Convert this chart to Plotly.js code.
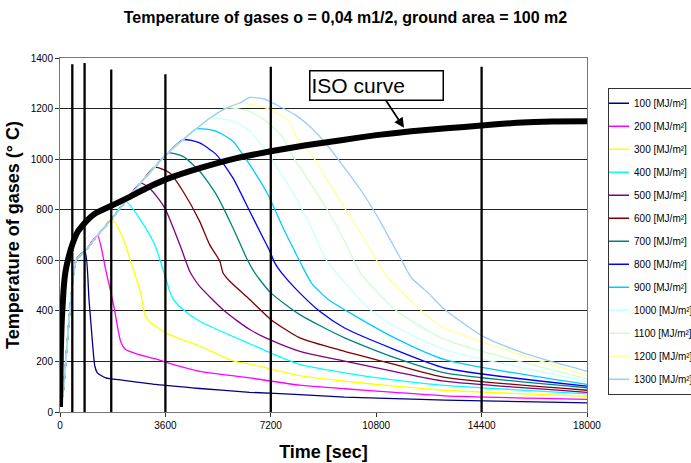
<!DOCTYPE html>
<html>
<head>
<meta charset="utf-8">
<script src="https://cdn.plot.ly/plotly-3.0.1.min.js"></script>
<style>html,body{margin:0;padding:0;background:#fff;}#chart{width:691px;height:463px;}</style>
</head>
<body>
<div id="chart"></div>
<script>
// ---------- DATA ----------
const seriesNames = ['100 [MJ/m²]','200 [MJ/m²]','300 [MJ/m²]','400 [MJ/m²]','500 [MJ/m²]','600 [MJ/m²]','700 [MJ/m²]','800 [MJ/m²]','900 [MJ/m²]','1000 [MJ/m²]','1100 [MJ/m²]','1200 [MJ/m²]','1300 [MJ/m²]'];
const seriesColors = ['#000080','#ff00ff','#ffff00','#00ffff','#800080','#800000','#008080','#0000ff','#00ccff','#ccffff','#ccffcc','#ffff99','#99ccff'];

// common growth phase (shared by all fire loads)
const growthTime = [0, 100, 557, 850, 1275, 1764, 2242, 2750, 3233, 3688, 4201, 4657, 5113, 5684, 6138, 6480];
const growthTemp = [20, 70, 603, 635, 698, 763, 833, 905, 968, 1024, 1077, 1120, 1162, 1202, 1222, 1244];

// decay phase of each fire load (first point = peak)
const decay100Time = [850, 990, 1100, 1190, 1275, 1560, 2130, 3270, 4770, 6480, 8190, 9720, 11430, 13140, 18000];
const decay100Temp = [635, 445, 287, 181, 155, 135, 126, 109, 93, 78, 69, 59, 53, 47, 36];
const decay200Time = [1275, 1560, 1840, 2070, 2240, 2700, 3270, 3600, 4770, 6480, 8190, 9720, 11430, 13140, 18000];
const decay200Temp = [698, 563, 418, 280, 247, 227, 210, 197, 161, 135, 106, 92, 78, 64, 50];
const decay300Time = [1764, 2130, 2470, 2755, 2900, 3100, 3270, 3600, 4770, 5970, 6480, 8190, 9720, 11430, 13140, 18000];
const decay300Temp = [763, 695, 576, 471, 385, 352, 339, 313, 260, 200, 190, 144, 122, 102, 86, 62];
const decay400Time = [2242, 2780, 3233, 3575, 3750, 3920, 4200, 4770, 6480, 8190, 9720, 11430, 13140, 18000];
const decay400Temp = [833, 754, 662, 543, 477, 438, 405, 359, 270, 188, 155, 126, 105, 72];
const decay500Time = [2750, 3100, 3575, 4090, 4430, 4600, 4770, 5630, 6480, 7200, 8190, 9720, 11430, 13140, 18000];
const decay500Temp = [905, 880, 807, 662, 557, 524, 497, 398, 326, 284, 240, 201, 160, 122, 78];
const decay600Time = [3233, 3750, 4200, 4770, 5110, 5460, 5570, 5800, 6480, 7200, 8190, 9720, 11430, 13140, 18000];
const decay600Temp = [968, 945, 873, 754, 662, 596, 550, 517, 445, 366, 293, 240, 188, 137, 86];
const decay700Time = [3688, 4200, 4770, 5340, 5910, 6370, 6600, 6820, 7200, 8190, 9720, 11430, 13140, 18000];
const decay700Temp = [1024, 1011, 952, 860, 728, 609, 560, 524, 471, 385, 293, 215, 155, 96];
const decay800Time = [4201, 4770, 5340, 5910, 6480, 6935, 7165, 7335, 7620, 8020, 8870, 9720, 11430, 13140, 18000];
const decay800Temp = [1077, 1064, 1018, 925, 794, 689, 636, 590, 543, 491, 398, 332, 247, 174, 102];
const decay900Time = [4657, 5340, 5910, 6480, 7100, 7620, 7960, 8190, 8590, 9160, 9786, 11430, 13140, 18000];
const decay900Temp = [1120, 1110, 1070, 978, 860, 728, 649, 596, 510, 445, 400, 293, 207, 109];
const decay1000Time = [5113, 5910, 6480, 7050, 7620, 8020, 8590, 9102, 9720, 10640, 11430, 13140, 18000];
const decay1000Temp = [1162, 1149, 1110, 1031, 930, 855, 728, 600, 513, 400, 339, 247, 122];
const decay1100Time = [5684, 6480, 7050, 7620, 8020, 8590, 9160, 9720, 10010, 10300, 11495, 13140, 18000];
const decay1100Temp = [1202, 1189, 1149, 1084, 998, 899, 794, 675, 605, 543, 400, 287, 131];
const decay1200Time = [6138, 7050, 7850, 8020, 8590, 9160, 9720, 10300, 10811, 11208, 12350, 13000, 18000];
const decay1200Temp = [1222, 1202, 1149, 1097, 1018, 912, 807, 702, 600, 530, 400, 339, 144];
const decay1300Time = [6480, 6925, 8020, 8590, 9160, 9720, 10300, 10866, 11432, 11666, 12008, 12575, 13141, 14434, 15822, 16963, 18000];
const decay1300Temp = [1244, 1239, 1176, 1123, 1051, 965, 873, 768, 649, 600, 530, 471, 405, 300, 234, 194, 161];

// ISO standard fire curve
const isoTime = [0, 30, 60, 120, 180, 300, 450, 600, 900, 1200, 1800, 2400, 3000, 3600, 4800, 6000, 7200, 8400, 9600, 10800, 12000, 13200, 14400, 15600, 16800, 18000];
const isoTemp = [20, 250, 360, 480, 550, 615, 672, 712, 755, 785, 818, 852, 888, 919, 965, 1003, 1031, 1055, 1075, 1095, 1110, 1122, 1133, 1144, 1149, 1150];

// hand-drawn vertical marker lines
const markerTimes = [420, 840, 1750, 3600, 7200, 14400];
const markerTops = [1375, 1380, 1355, 1336, 1365, 1365];

const xTickVals = [0, 3600, 7200, 10800, 14400, 18000];

const decayTimes = [decay100Time, decay200Time, decay300Time, decay400Time, decay500Time, decay600Time, decay700Time, decay800Time, decay900Time, decay1000Time, decay1100Time, decay1200Time, decay1300Time];
const decayTemps = [decay100Temp, decay200Temp, decay300Temp, decay400Temp, decay500Temp, decay600Temp, decay700Temp, decay800Temp, decay900Temp, decay1000Temp, decay1100Temp, decay1200Temp, decay1300Temp];

// ---------- BUILD ----------
const traces = [];
seriesNames.forEach((name, i) => {
  const peakT = decayTimes[i][0];
  const xs = [], ys = [];
  growthTime.forEach((t, k) => { if (t < peakT) { xs.push(t); ys.push(growthTemp[k]); } });
  decayTimes[i].forEach((t, k) => { xs.push(t); ys.push(decayTemps[i][k]); });
  traces.push({
    x: xs, y: ys, name: name, type: 'scatter', mode: 'lines',
    line: {color: seriesColors[i], width: 1.3, shape: 'spline', smoothing: 0.6},
    legendgroup: 'g' + i, showlegend: true
  });
});
markerTimes.forEach((t, i) => {
  traces.push({x: [t, t], y: [0, markerTops[i]], type: 'scatter', mode: 'lines',
    line: {color: '#000', width: 2.3}, showlegend: false, hoverinfo: 'skip'});
});
traces.push({x: isoTime, y: isoTemp, type: 'scatter', mode: 'lines', name: 'ISO curve',
  line: {color: '#000', width: 6, shape: 'spline', smoothing: 0.4}, showlegend: false});

const FONT = 'Liberation Sans, Arial, sans-serif';
const NARROW = 'Liberation Sans Narrow, Arial Narrow, Liberation Sans, Arial, sans-serif';

const layout = {
  width: 691, height: 463,
  margin: {l: 60, r: 104, t: 58, b: 51, autoexpand: false},
  paper_bgcolor: '#fff', plot_bgcolor: '#fff',
  font: {family: FONT, color: '#000', size: 10},
  title: {text: '<b>Temperature of gases o = 0,04 m1/2, ground area = 100 m2</b>',
    font: {family: NARROW, size: 16, color: '#000'},
    xref: 'container', x: 0.5, xanchor: 'center', yref: 'container', y: 0.963, yanchor: 'middle'},
  xaxis: {
    range: [0, 18000], tickvals: xTickVals, ticktext: xTickVals.map(String),
    showgrid: false, zeroline: false, showline: true, linecolor: '#777', linewidth: 1, mirror: true,
    ticks: 'outside', ticklen: 4, tickcolor: '#333',
    tickfont: {family: FONT, size: 10, color: '#000'},
    title: {text: '<b>Time [sec]</b>', font: {family: NARROW, size: 18, color: '#000'}, standoff: 15}
  },
  yaxis: {
    range: [0, 1400], dtick: 200, showgrid: true, gridcolor: '#222', gridwidth: 1,
    zeroline: false, showline: true, linecolor: '#777', linewidth: 1, mirror: true,
    ticks: 'outside', ticklen: 4, tickcolor: '#333',
    tickfont: {family: FONT, size: 10, color: '#000'},
    title: {text: '<b>Temperature of gases (° C)</b>', font: {family: FONT, size: 18, color: '#000'}, standoff: 6}
  },
  legend: {
    x: 1.0399, xanchor: 'left', y: 0.916, yanchor: 'top',
    bgcolor: '#fff', bordercolor: '#333', borderwidth: 1,
    font: {family: FONT, size: 10, color: '#000'},
    traceorder: 'grouped', tracegroupgap: 4, itemwidth: 30, indentation: -15
  },
  annotations: [
    {xref: 'x', yref: 'y', x: 11750, y: 1124, axref: 'x', ayref: 'y', ax: 10800, ay: 1290,
     text: 'ISO curve', showarrow: true, arrowhead: 2, arrowsize: 1.1, arrowwidth: 1.8, arrowcolor: '#000',
     font: {family: FONT, size: 21, color: '#000'}, bordercolor: '#000', borderwidth: 1.5,
     bgcolor: '#fff', width: 130, height: 26, align: 'left'}
  ],
  showlegend: true
};

Plotly.newPlot('chart', traces, layout, {displayModeBar: false, staticPlot: true});
</script>
</body>
</html>
